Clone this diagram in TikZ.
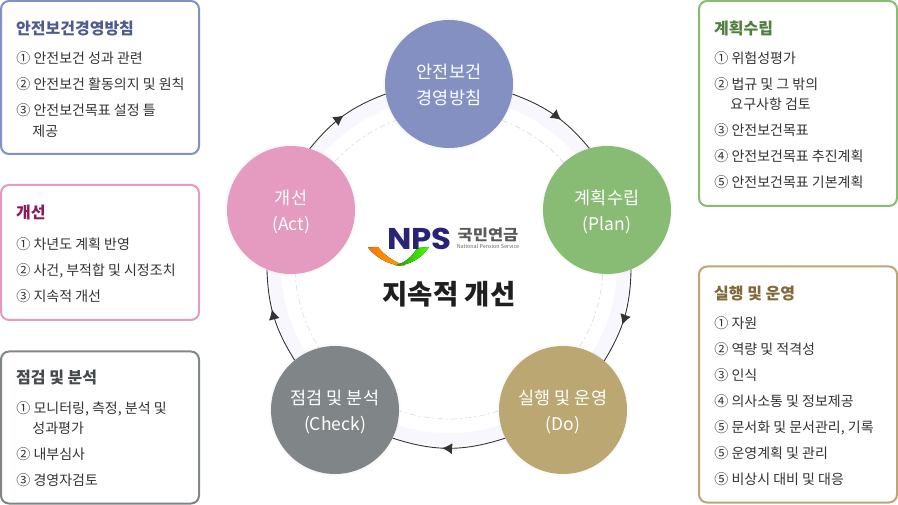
\documentclass[tikz,border=0pt]{standalone}
\usepackage{fontspec}
\setmainfont{Noto Sans CJK KR}
\newfontfamily\logofont{Poppins}
\usetikzlibrary{arrows.meta,decorations.markings,shadows}

\definecolor{policyfill}{HTML}{8490C2}
\definecolor{planfill}{HTML}{88BC74}
\definecolor{dofill}{HTML}{BBA772}
\definecolor{checkfill}{HTML}{808687}
\definecolor{actfill}{HTML}{E49BBF}
\definecolor{policyhead}{HTML}{4F5A8E}
\definecolor{planhead}{HTML}{4F7F3E}
\definecolor{dohead}{HTML}{80693A}
\definecolor{checkhead}{HTML}{444A4C}
\definecolor{acthead}{HTML}{8F1A58}
\definecolor{itemtext}{HTML}{333333}
\definecolor{bandfill}{HTML}{F7F7FD}
\definecolor{npsnavy}{HTML}{2A2277}

\tikzset{
    panel/.style={draw, line width=2pt, rounded corners=8pt, fill=white, minimum width=198pt, inner sep=0pt},
    headtxt/.style={anchor=west, inner sep=0pt, text height=13.5pt, text depth=.5pt, font=\fontsize{16}{16}\selectfont\bfseries},
    itemtxt/.style={anchor=west, inner sep=0pt, text height=13.5pt, text depth=.5pt, text=itemtext, font=\fontsize{14}{14}\selectfont},
    stage/.style={circle, inner sep=0pt, minimum size=128pt, text=white, align=center,
        font=\fontsize{17.5}{26}\selectfont, text height=46pt, text depth=5pt,
        drop shadow={shadow xshift=0pt, shadow yshift=0pt, shadow scale=1.03, opacity=.025, fill=black}},
    flow/.style={line width=.9pt, draw=itemtext,
        decoration={markings, mark=at position #1 with {\arrow[itemtext]{Latex[length=10pt,width=11pt]}}},
        postaction={decorate}},
}

\begin{document}
\begin{tikzpicture}[x=1pt,y=-1pt]
    \useasboundingbox (0,0) rectangle (898,505);
    % ring behind the stages
    \coordinate (ringc) at (449,265);
    \draw[bandfill, line width=13pt] (ringc) circle[radius=174.5pt];
    \draw[gray!25, dash pattern=on 6pt off 3pt on 2pt off 3pt, line width=.7pt] (ringc) circle[radius=154pt];

    \node[stage, fill=policyfill] (policy) at (449,84) {안전보건\\경영방침};
    \node[stage, fill=planfill] (plan) at (607,210) {계획수립\\(Plan)};
    \node[stage, fill=dofill] (do) at (563,410) {실행 및 운영\\(Do)};
    \node[stage, fill=checkfill] (check) at (335,410) {점검 및 분석\\(Check)};
    \node[stage, fill=actfill] (act) at (291,210) {개선\\(Act)};

    \draw[flow=.58] (policy.-9.3) to[bend left=15] (plan.106.5);
    \draw[flow=.58] (plan.-68.1) to[bend left=15] (do.50.4);
    \draw[flow=.56] (do.206) to[bend left=18] (check.-26);
    \draw[flow=.58] (check.129.6) to[bend left=15] (act.248.1);
    \draw[flow=.5] (act.73.5) to[bend left=15] (policy.189.3);

    % logo
    \fill[left color=orange!90!red, right color=orange!70!yellow] (368,247.5) .. controls (378,260) and (392,266) .. (405,265.5) .. controls (394,262) and (384,255) .. (378,247) -- cycle;
    \fill[left color=green!60!black!90!yellow, right color=green!70!yellow] (429,247) .. controls (422,258) and (409,266) .. (395,265.5) .. controls (405,263) and (413,256) .. (417,248) -- cycle;
    \node[inner sep=0pt, text=npsnavy, font=\logofont\bfseries\fontsize{30}{30}\selectfont] (npsmark) at (419.5,238.5) {\scalebox{1.08}[1]{NPS}};
    \node[inner sep=0pt, text=black!65, font=\fontsize{15}{15}\selectfont\bfseries] (npsname) at (488,235) {\scalebox{1.1}[1]{국민연금}};
    \node[inner sep=0pt, text=black!60, font=\fontsize{5.4}{5.4}\selectfont] (npseng) at (488,246.5) {National Pension Service};
    \node[inner sep=0pt, text=black!88, font=\fontsize{27.5}{27.5}\selectfont\bfseries] (goal) at (449,294) {지속적 개선};

    % left panels
    \node[panel, draw=policyfill, minimum height=153pt] (policybox) at (100,77.5) {};
    \node[headtxt, text=policyhead] (policyhd) at (16,28) {안전보건경영방침};
    \foreach \ypos/\itemline in {57/① 안전보건 성과 관련, 83/② 안전보건 활동의지 및 원칙, 109/③ 안전보건목표 설정 틀}
        \node[itemtxt] at (16.2,\ypos) {\itemline};
    \node[itemtxt] at (32.2,130) {제공};

    \node[panel, draw=actfill, minimum height=135pt] (actbox) at (100,252.5) {};
    \node[headtxt, text=acthead] (acthd) at (16,212) {개선};
    \foreach \ypos/\itemline in {243/① 차년도 계획 반영, 269/{② 사건, 부적합 및 시정조치}, 295/③ 지속적 개선}
        \node[itemtxt] at (16.2,\ypos) {\itemline};

    \node[panel, draw=checkfill, minimum height=152pt] (checkbox) at (100,427.5) {};
    \node[headtxt, text=checkhead] (checkhd) at (16,377) {점검 및 분석};
    \foreach \ypos/\itemline in {407/{① 모니터링, 측정, 분석 및}, 453/② 내부심사, 479/③ 경영자검토}
        \node[itemtxt] at (16.2,\ypos) {\itemline};
    \node[itemtxt] at (32.2,427) {성과평가};

    % right panels
    \node[panel, draw=planfill, minimum height=205pt] (planbox) at (798,103.5) {};
    \node[headtxt, text=planhead] (planhd) at (714,28) {계획수립};
    \foreach \ypos/\itemline in {57/① 위험성평가, 83/② 법규 및 그 밖의, 129/③ 안전보건목표, 155/④ 안전보건목표 추진계획, 181/⑤ 안전보건목표 기본계획}
        \node[itemtxt] at (714.2,\ypos) {\itemline};
    \node[itemtxt] at (730.2,103) {요구사항 검토};

    \node[panel, draw=dofill, minimum height=236pt] (dobox) at (798,384.5) {};
    \node[headtxt, text=dohead] (dohd) at (714,293) {실행 및 운영};
    \foreach \ypos/\itemline in {322/① 자원, 348/② 역량 및 적격성, 374/③ 인식, 400/④ 의사소통 및 정보제공, 426/{⑤ 문서화 및 문서관리, 기록}, 452/⑤ 운영계획 및 관리, 478/⑤ 비상시 대비 및 대응}
        \node[itemtxt] at (714.2,\ypos) {\itemline};
\end{tikzpicture}
\end{document}
